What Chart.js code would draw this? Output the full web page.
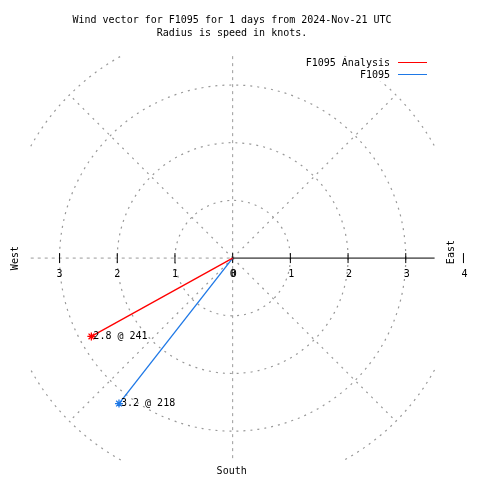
<!DOCTYPE html>
<html>
<head>
<meta charset="utf-8">
<script src="https://cdn.jsdelivr.net/npm/chart.js@4"></script>
<style>
  html, body { margin: 0; padding: 0; background: #fff; }
  canvas { display: block; }
</style>
</head>
<body>
<canvas id="myChart" width="480" height="480"></canvas>
<script>
// series shown as wind vectors (speed in knots, direction in degrees)
const categories = ['F1095 Analysis', 'F1095'];
const speeds = [2.8, 3.2];
const directions = [241, 218];
const seriesColors = ['#ff0000', '#1e78e6'];

// polar grid and axis
const ringValues = [1, 2, 3];
const outerRing = 4;
const tickValues = [0, 1, 2, 3];
const eastExtraTick = 4;
const spokeLength = 3.5;

const titleLines = [
    'Wind vector for F1095 for 1 days from 2024-Nov-21 UTC',
    'Radius is speed in knots.'
];

const PX = 59; // pixels per knot
const FONT = '10px "DejaVu Sans Mono", "Liberation Mono", monospace';

const datasets = categories.map((name, i) => {
    const rad = directions[i] * Math.PI / 180;
    return {
        label: name,
        data: [
            { x: 0, y: 0 },
            { x: speeds[i] * Math.sin(rad), y: speeds[i] * Math.cos(rad) }
        ],
        showLine: true,
        borderColor: seriesColors[i],
        borderWidth: 1.3,
        pointStyle: 'star',
        pointRadius: [0, 4],
        pointBorderColor: seriesColors[i],
        pointBorderWidth: 1.3
    };
});

const windPlot = {
    id: 'windPlot',
    beforeDatasetsDraw(chart) {
        const ctx = chart.ctx;
        const xs = chart.scales.x, ys = chart.scales.y;
        const cx = xs.getPixelForValue(0), cy = ys.getPixelForValue(0);
        const k = xs.getPixelForValue(1) - cx;
        ctx.save();
        ctx.strokeStyle = '#999';
        ctx.lineWidth = 1.2;
        ctx.setLineDash([2, 5]);

        // speed rings
        ringValues.forEach(r => {
            ctx.beginPath();
            ctx.arc(cx, cy, r * k, 0, Math.PI * 2);
            ctx.stroke();
        });
        // outer ring, only the parts between the axes
        [-135, -45, 45, 135].forEach(a => {
            ctx.beginPath();
            ctx.arc(cx, cy, outerRing * k, (a - 16) * Math.PI / 180, (a + 16) * Math.PI / 180);
            ctx.stroke();
        });
        // diagonal spokes
        [45, 135, 225, 315].forEach(a => {
            const t = a * Math.PI / 180;
            ctx.beginPath();
            ctx.moveTo(cx, cy);
            ctx.lineTo(cx + Math.cos(t) * outerRing * k, cy + Math.sin(t) * outerRing * k);
            ctx.stroke();
        });
        // north-south and west spokes
        ctx.lineWidth = 1;
        ctx.setLineDash([3, 4]);
        ctx.beginPath();
        ctx.moveTo(cx, cy - spokeLength * k);
        ctx.lineTo(cx, cy + spokeLength * k);
        ctx.moveTo(cx - spokeLength * k, cy);
        ctx.lineTo(cx, cy);
        ctx.stroke();

        // east axis
        ctx.setLineDash([]);
        ctx.strokeStyle = '#000';
        ctx.beginPath();
        ctx.moveTo(cx, cy);
        ctx.lineTo(cx + spokeLength * k, cy);
        ctx.stroke();

        // ticks on both sides
        ctx.beginPath();
        tickValues.concat([eastExtraTick]).forEach(v => {
            const x = xs.getPixelForValue(v);
            ctx.moveTo(x, cy - 5);
            ctx.lineTo(x, cy + 5);
        });
        tickValues.forEach(v => {
            if (v === 0) return;
            const x = xs.getPixelForValue(-v);
            ctx.moveTo(x, cy - 5);
            ctx.lineTo(x, cy + 5);
        });
        ctx.stroke();

        // tick labels
        ctx.font = FONT;
        ctx.fillStyle = '#000';
        ctx.textAlign = 'center';
        ctx.textBaseline = 'middle';
        tickValues.forEach(v => {
            ctx.fillText(String(v), xs.getPixelForValue(v) + 1, cy + 16);
            ctx.fillText(String(v), xs.getPixelForValue(-v), cy + 16);
        });
        ctx.fillText(String(eastExtraTick), xs.getPixelForValue(eastExtraTick) + 1, cy + 16);

        // compass words
        ctx.fillText('South', cx - 1, 471);
        ctx.save();
        ctx.translate(15, cy);
        ctx.rotate(-Math.PI / 2);
        ctx.fillText('West', 0, 0);
        ctx.restore();
        ctx.save();
        ctx.translate(451, cy - 6);
        ctx.rotate(-Math.PI / 2);
        ctx.fillText('East', 0, 0);
        ctx.restore();
        ctx.restore();
    },
    afterDatasetsDraw(chart) {
        const ctx = chart.ctx;
        ctx.save();
        ctx.font = FONT;
        ctx.fillStyle = '#000';
        ctx.textBaseline = 'middle';

        // vector end labels
        ctx.textAlign = 'left';
        chart.data.datasets.forEach((ds, i) => {
            const pt = chart.getDatasetMeta(i).data[1];
            ctx.fillText(speeds[i].toFixed(1) + ' @ ' + directions[i], pt.x + 2, pt.y);
        });

        // legend
        ctx.textAlign = 'right';
        categories.forEach((name, i) => {
            const y = 63 + i * 12;
            const w = ctx.measureText(name).width;
            ctx.fillStyle = '#fff';
            ctx.fillRect(390 - w, y - 6, w, 12);
            ctx.fillStyle = '#000';
            ctx.fillText(name, 390, y);
            ctx.strokeStyle = seriesColors[i];
            ctx.lineWidth = 1;
            ctx.beginPath();
            ctx.moveTo(398, y - 0.5);
            ctx.lineTo(427, y - 0.5);
            ctx.stroke();
        });

        // title
        ctx.textAlign = 'center';
        ctx.fillText(titleLines[0], 232, 20.5);
        ctx.fillText(titleLines[1], 232, 33);
        ctx.restore();
    }
};

const ctx = document.getElementById('myChart').getContext('2d');
const myChart = new Chart(ctx, {
    type: 'scatter',
    data: { datasets: datasets },
    options: {
        responsive: false,
        animation: false,
        layout: { padding: 0 },
        plugins: {
            legend: { display: false },
            title: { display: false },
            tooltip: { enabled: false }
        },
        scales: {
            x: { display: false, min: -232.5 / PX, max: 247.5 / PX },
            y: { display: false, min: -221.5 / PX, max: 258.5 / PX }
        }
    },
    plugins: [windPlot]
});
</script>
</body>
</html>
